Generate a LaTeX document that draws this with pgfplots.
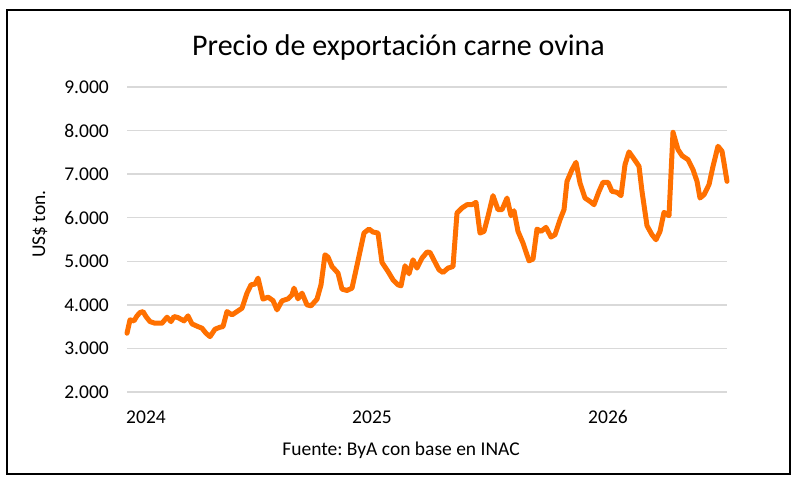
\documentclass[border=0pt]{standalone}
\usepackage{fontspec}
\setmainfont{Carlito}
\usepackage{pgfplots}
\pgfplotsset{compat=1.18}
\definecolor{lineorange}{RGB}{255,112,0}
\definecolor{gridgray}{RGB}{217,217,217}
\frenchspacing
\begin{document}
\begin{tikzpicture}[x=1bp,y=1bp]
\path[use as bounding box] (0,0) rectangle (801,487);
\fill[white] (0,0) rectangle (801,487);
\draw[black, line width=2bp] (7,13) rectangle (790,477);
\begin{axis}[
  at={(127bp,95bp)}, anchor=south west,
  scale only axis, width=600bp, height=305bp,
  xmin=0, xmax=600, ymin=2000, ymax=9000,
  clip=false,
  axis line style={draw=none},
  major tick length=0pt,
  ymajorgrids, grid style={gridgray, line width=1.4bp},
  ytick={2000,3000,4000,5000,6000,7000,8000,9000},
  yticklabels={2.000,3.000,4.000,5.000,6.000,7.000,8.000,9.000},
  xtick={19,245,481},
  xticklabels={2024,2025,2026},
  ticklabel style={font=\fontsize{19.5bp}{23bp}\selectfont},
  yticklabel style={anchor=east, inner sep=0pt, xshift=-18bp},
  xticklabel style={anchor=base, inner sep=0pt, yshift=-32bp},
  /pgf/number format/assume math mode=true,
]
\addplot[lineorange, line width=5bp, line join=round, line cap=round] coordinates {
(0,3349) (3,3655) (7,3632) (10,3747) (13,3823) (16,3846) (19,3731) (23,3616)
(28,3578) (35,3578) (40,3716) (44,3616) (47,3731) (51,3708) (57,3632) (61,3747)
(65,3563) (71,3501) (75,3464) (79,3349) (83,3271) (88,3441) (93,3487) (96,3501)
(100,3846) (105,3770) (110,3846) (115,3924) (120,4269) (124,4460) (128,4476) (131,4614)
(136,4131) (141,4177) (146,4099) (150,3885) (155,4092) (161,4138) (165,4230) (167,4384)
(171,4138) (175,4269) (180,4000) (184,3977) (190,4131) (194,4460) (198,5149) (201,5096)
(205,4880) (211,4728) (215,4361) (220,4330) (225,4384) (231,5011) (237,5648) (242,5740)
(246,5671) (251,5648) (255,4973) (261,4766) (266,4575) (271,4460) (274,4437) (278,4897)
(282,4713) (286,5034) (290,4843) (295,5073) (300,5211) (303,5203) (308,4980) (312,4805)
(316,4743) (321,4843) (326,4880) (330,6108) (335,6223) (340,6299) (345,6299) (349,6352)
(353,5648) (357,5686) (361,6031) (366,6506) (371,6184) (375,6184) (380,6452) (384,6046)
(387,6161) (391,5686) (396,5418) (402,5011) (406,5050) (410,5740) (414,5686) (419,5778)
(424,5556) (428,5609) (433,5954) (437,6184) (440,6835) (445,7103) (449,7271) (453,6797)
(458,6452) (463,6375) (467,6299) (472,6605) (476,6812) (481,6812) (485,6605) (490,6582)
(494,6506) (498,7218) (502,7510) (507,7349) (512,7180) (515,6605) (520,5816) (525,5609)
(529,5494) (533,5686) (537,6123) (542,6046) (546,7961) (551,7563) (555,7425) (561,7333)
(566,7103) (570,6835) (573,6452) (577,6529) (582,6759) (586,7180) (591,7640) (595,7525)
(597,7257) (600,6835)
};
\end{axis}
\node[anchor=base, inner sep=0pt, font=\fontsize{30bp}{36bp}\selectfont] at (398.5,431) {Precio de exportación carne ovina};
\node[anchor=base, inner sep=0pt, font=\fontsize{19.5bp}{23bp}\selectfont] at (401,31) {Fuente: ByA con base en INAC};
\node[rotate=90, inner sep=0pt, font=\fontsize{19.5bp}{23bp}\selectfont] at (40,263) {US\$ ton.};
\end{tikzpicture}
\end{document}
